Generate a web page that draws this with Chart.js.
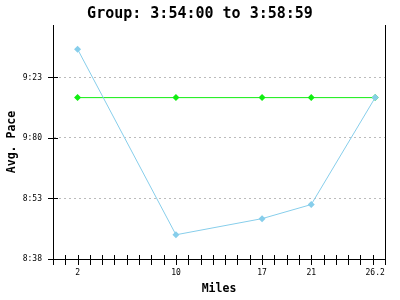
<!DOCTYPE html>
<html>
<head>
<meta charset="utf-8">
<script src="https://cdn.jsdelivr.net/npm/chart.js@4/dist/chart.umd.min.js"></script>
<style>
  html, body { margin:0; padding:0; background:#fff; }
  canvas { display:block; }
</style>
</head>
<body>
<canvas id="chart" width="400" height="300"></canvas>
<script>
// pace per split vs. the group target, seconds per mile
const miles = [2, 10, 17, 21, 26.2];
const paceSec = [570, 524, 528, 531.5, 558];
const groupSec = [558, 558, 558, 558, 558];

const yTickValues = [518, 533, 548, 563];
const yTickLabels = ['8:38', '8:53', '9:80', '9:23'];
const xMin = 0, xMax = 27;
const yMin = 518, yMax = 576;

const mono = '"DejaVu Sans Mono", monospace';

// tick marks crossing the axes + right frame line
const crossTicks = {
  id: 'crossTicks',
  afterDraw(chart){
    const { ctx, chartArea: a, scales } = chart;
    const x = scales.x, y = scales.y;
    ctx.save();
    ctx.strokeStyle = '#000';
    ctx.lineWidth = 1;
    ctx.beginPath();
    for(let m = xMin; m <= xMax; m++){
      const px = Math.round(x.getPixelForValue(m)) + 0.5;
      ctx.moveTo(px, a.bottom - 4);
      ctx.lineTo(px, a.bottom + 6);
    }
    yTickValues.forEach(v=>{
      const py = Math.round(y.getPixelForValue(v)) + 0.5;
      ctx.moveTo(a.left - 5, py);
      ctx.lineTo(a.left + 5, py);
    });
    const rx = Math.round(a.right) + 0.5;
    ctx.moveTo(rx, a.top);
    ctx.lineTo(rx, a.bottom);
    ctx.stroke();
    ctx.restore();
  }
};

new Chart(document.getElementById('chart'), {
  type: 'line',
  data: {
    datasets: [
      {
        label: 'Pace',
        data: miles.map((m,i)=>({ x: m, y: paceSec[i] })),
        borderColor: '#87ceeb',
        backgroundColor: '#87ceeb',
        borderWidth: 1,
        pointStyle: 'rectRot',
        pointRadius: 3.5,
        pointBorderWidth: 0,
        tension: 0,
        fill: false
      },
      {
        label: 'Group',
        data: miles.map((m,i)=>({ x: m, y: groupSec[i] })),
        borderColor: '#11ee11',
        backgroundColor: '#11ee11',
        borderWidth: 1,
        pointStyle: 'rectRot',
        pointRadius: 3.5,
        pointBorderWidth: 0,
        tension: 0,
        fill: false
      }
    ]
  },
  options: {
    responsive: false,
    animation: false,
    layout: { padding: 0 },
    plugins: {
      legend: { display: false },
      tooltip: { enabled: false },
      title: {
        display: true,
        text: 'Group: 3:54:00 to 3:58:59',
        color: '#000',
        font: { family: mono, size: 15, weight: 'bold', lineHeight: 1 },
        padding: { top: 7, bottom: 3 }
      }
    },
    scales: {
      x: {
        type: 'linear',
        min: xMin, max: xMax,
        afterBuildTicks: (s)=>{ s.ticks = miles.map(v=>({ value: v })); },
        afterFit: (s)=>{ s.height = 41; },
        ticks: {
          color: '#000',
          padding: 9,
          maxRotation: 0,
          autoSkip: false,
          font: { family: mono, size: 8 },
          callback: (v)=> String(v)
        },
        grid: { display: false, drawTicks: false },
        border: { display: true, color: '#000', width: 1 },
        title: {
          display: true,
          text: 'Miles',
          color: '#000',
          font: { family: mono, size: 11.5, weight: 'bold' },
          padding: { top: 0, bottom: 4 }
        }
      },
      y: {
        type: 'linear',
        min: yMin, max: yMax,
        afterBuildTicks: (s)=>{ s.ticks = yTickValues.map(v=>({ value: v })); },
        afterFit: (s)=>{ s.width = 53; },
        ticks: {
          color: '#000',
          padding: 11,
          font: { family: mono, size: 8 },
          callback: (v)=> yTickLabels[yTickValues.indexOf(v)]
        },
        grid: {
          display: true,
          drawTicks: false,
          color: (c)=> (c.tick && c.tick.value === yMin) ? 'rgba(0,0,0,0)' : '#bbbbbb',
          lineWidth: 1
        },
        border: { display: true, color: '#000', width: 1, dash: [2, 3] },
        title: {
          display: true,
          text: 'Avg. Pace',
          color: '#000',
          font: { family: mono, size: 11.5, weight: 'bold' },
          padding: { top: 5, bottom: 0 }
        }
      },
      // empty right-hand axis, only reserves the margin so the title stays centred on the page
      yRight: {
        type: 'linear',
        position: 'right',
        min: 0, max: 1,
        afterFit: (s)=>{ s.width = 15; },
        ticks: { display: false },
        grid: { display: false, drawTicks: false },
        border: { display: false }
      }
    }
  },
  plugins: [crossTicks]
});
</script>
</body>
</html>
